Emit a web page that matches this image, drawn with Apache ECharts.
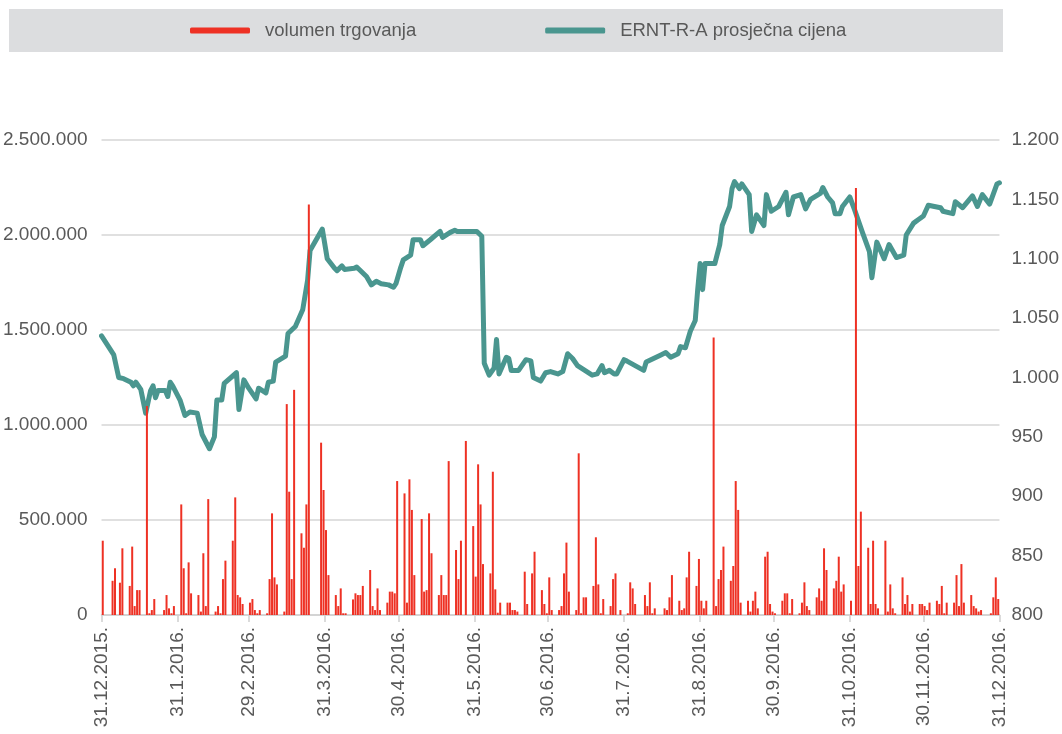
<!DOCTYPE html>
<html>
<head>
<meta charset="utf-8">
<script src="https://cdn.jsdelivr.net/npm/echarts@6/dist/echarts.min.js"></script>
<style>
  html, body { margin: 0; padding: 0; background: #fff; }
  #chart { width: 1062px; height: 734px; }
</style>
</head>
<body>
<div id="chart"></div>
<script>
// x = days counted from 31.12.2015
const tickDays = [0, 31, 60, 91, 121, 152, 182, 213, 244, 274, 305, 335, 366]
const tickLabels = [
  '31.12.2015.', '31.1.2016.', '29.2.2016.', '31.3.2016.', '30.4.2016.', '31.5.2016.', '30.6.2016.',
  '31.7.2016.', '31.8.2016.', '30.9.2016.', '31.10.2016.', '30.11.2016.', '31.12.2016.',
]

const volumeDays = [
  0, 4, 5, 7, 8, 11, 12, 13, 14, 15, 18, 19, 20, 21, 25, 26, 27, 28, 29, 32, 33, 34, 35, 36,
  39, 40, 41, 42, 43, 46, 47, 48, 49, 50, 53, 54, 55, 56, 57, 60, 61, 62, 63, 64, 67, 68, 69, 70, 71,
  74, 75, 76, 77, 78, 81, 82, 83, 84, 89, 90, 91, 92, 95, 96, 97, 98, 99, 102, 103, 104, 105, 106,
  109, 110, 111, 112, 113, 116, 117, 118, 119, 120, 123, 124, 125, 126, 127, 130, 131, 132, 133, 134,
  137, 138, 139, 140, 141, 144, 145, 146, 148, 151, 152, 153, 154, 155, 158, 159, 160, 161, 162,
  165, 166, 167, 168, 169, 172, 173, 175, 176, 179, 180, 181, 182, 183, 186, 187, 188, 189, 190,
  193, 194, 195, 196, 197, 200, 201, 202, 203, 204, 207, 208, 209, 211, 214, 215, 216, 217,
  221, 222, 223, 224, 225, 229, 230, 231, 232, 235, 236, 237, 238, 239, 242, 243, 244, 245, 246,
  249, 250, 251, 252, 253, 256, 257, 258, 259, 260, 263, 264, 265, 266, 267, 270, 271, 272, 273, 274,
  277, 278, 279, 280, 281, 284, 285, 286, 287, 288, 291, 292, 293, 294, 295, 298, 299, 300, 301, 302,
  305, 307, 308, 309, 312, 313, 314, 315, 316, 319, 320, 321, 322, 323, 326, 327, 328, 329, 330,
  333, 334, 335, 336, 337, 340, 341, 342, 343, 344, 347, 348, 349, 350, 351, 354, 355, 356, 357, 358,
  362, 363, 364, 365,
]
const volume = [
  391000, 180000, 246000, 170000, 351000, 153000, 360000, 47000, 131000, 131000, 1100000, 9000, 26000, 84000, 26000, 105000, 35000, 9000, 47000, 582000, 246000, 9000, 277000, 114000,
  105000, 18000, 325000, 47000, 610000, 18000, 47000, 9000, 189000, 286000, 391000, 619000, 105000, 93000, 58000, 65000, 84000, 26000, 9000, 26000, 9000, 189000, 535000, 198000, 161000,
  18000, 1110000, 649000, 189000, 1185000, 430000, 354000, 582000, 2160000, 907000, 658000, 447000, 210000, 105000, 47000, 140000, 9000, 9000, 82000, 114000, 105000, 105000, 153000,
  237000, 47000, 26000, 140000, 26000, 65000, 123000, 123000, 114000, 705000, 640000, 65000, 714000, 553000, 210000, 505000, 123000, 131000, 535000, 325000,
  105000, 210000, 105000, 105000, 810000, 342000, 189000, 391000, 916000, 468000, 202000, 793000, 582000, 268000, 219000, 754000, 135000, 12000, 65000,
  65000, 65000, 26000, 26000, 18000, 228000, 58000, 219000, 333000, 131000, 58000, 9000, 198000, 26000, 26000, 47000, 219000, 381000, 123000,
  26000, 851000, 9000, 93000, 93000, 153000, 409000, 161000, 9000, 84000, 47000, 189000, 219000, 26000, 9000, 172000, 140000, 58000,
  105000, 47000, 172000, 9000, 35000, 35000, 26000, 93000, 210000, 75000, 26000, 35000, 198000, 333000, 153000, 295000, 75000, 35000, 75000,
  1460000, 47000, 189000, 237000, 360000, 180000, 258000, 705000, 553000, 65000, 75000, 18000, 75000, 123000, 35000, 307000, 333000, 58000, 18000, 9000,
  75000, 114000, 114000, 9000, 84000, 9000, 65000, 172000, 47000, 26000, 93000, 140000, 75000, 351000, 237000, 140000, 180000, 307000, 123000, 161000,
  75000, 2247000, 258000, 544000, 354000, 58000, 391000, 58000, 35000, 391000, 18000, 161000, 35000, 9000, 198000, 58000, 105000, 18000, 58000,
  58000, 58000, 47000, 26000, 65000, 75000, 58000, 153000, 9000, 65000, 65000, 210000, 47000, 268000, 65000, 105000, 47000, 35000, 18000, 26000,
  9000, 93000, 198000, 84000,
]

const priceDays = [
  0, 5, 7, 9, 12, 13, 14, 16, 18, 20, 21, 22, 23, 26, 27, 28, 29, 32, 34, 36, 39, 41, 44, 46, 47, 49, 50,
  55, 56, 58, 60, 63, 64, 67, 68, 70, 71, 75, 76, 79, 82, 84, 85, 90, 92, 95, 96, 98, 99, 103, 104, 106,
  108, 110, 112, 114, 117, 119, 120, 122, 123, 126, 127, 130, 131, 134, 138, 139, 142, 144, 145, 153, 155,
  156, 158, 160, 161, 162, 165, 166, 167, 170, 173, 175, 176, 179, 181, 183, 186, 188, 190, 192, 194, 197,
  200, 202, 204, 205, 207, 209, 210, 213, 214, 221, 222, 228, 230, 232, 235, 236, 238, 240, 242, 243, 244,
  245, 246, 250, 252, 253, 256, 257, 258, 260, 261, 264, 265, 267, 270, 271, 273, 276, 279, 280, 282, 285,
  287, 289, 293, 294, 296, 298, 299, 301, 302, 305, 307, 310, 313, 314, 316, 319, 321, 324, 327, 328, 331,
  333, 335, 337, 342, 343, 347, 348, 351, 355, 357, 359, 362, 365, 366,
]
const price = [
  1035, 1019, 1000, 999, 996, 993, 996, 990, 970, 989, 993, 983, 989, 989, 984, 996, 993, 981, 968, 971, 970, 952, 940, 950, 981, 981, 995,
  1004, 973, 998, 991, 982, 991, 987, 996, 997, 1013, 1018, 1037, 1043, 1057, 1082, 1107, 1125, 1100, 1092, 1090, 1094, 1091, 1092, 1093, 1089,
  1085, 1078, 1081, 1079, 1078, 1076, 1079, 1093, 1099, 1103, 1116, 1116, 1111, 1116, 1123, 1118, 1122, 1124, 1123, 1123, 1119,
  1012, 1002, 1008, 1032, 1003, 1017, 1016, 1006, 1006, 1015, 1014, 1000, 997, 1004, 1005, 1003, 1005, 1020, 1016, 1010, 1006,
  1002, 1003, 1010, 1004, 1006, 1003, 1003, 1015, 1014, 1006, 1013, 1019, 1021, 1017, 1020, 1026, 1025, 1039, 1048, 1074, 1096,
  1074, 1096, 1096, 1112, 1128, 1144, 1159, 1165, 1159, 1163, 1154, 1123, 1137, 1128, 1154, 1140, 1144, 1156, 1137, 1152, 1154,
  1142, 1150, 1155, 1160, 1152, 1147, 1138, 1138, 1144, 1152, 1141, 1123, 1106, 1084, 1114, 1100, 1112, 1101, 1103, 1120, 1130,
  1133, 1136, 1145, 1143, 1140, 1138, 1148, 1143, 1153, 1144, 1154, 1146, 1163, 1164,
]

const dotted = (v) => String(v).replace(/\B(?=(\d{3})+(?!\d))/g, '.')
const labelColor = '#595959'
const font = 'Liberation Sans, Arial, sans-serif'

const chart = echarts.init(document.getElementById('chart'))
const option = {
  animation: false,
  graphic: [
    { type: 'rect', z: -10, shape: { x: 9, y: 9, width: 994, height: 43 }, style: { fill: '#DCDDDF' } },
  ],
  legend: {
    data: ['volumen trgovanja', 'ERNT-R-A prosječna cijena'],
    left: 185,
    top: 16,
    icon: 'roundRect',
    itemWidth: 60,
    itemHeight: 6,
    itemGap: 129,
    textStyle: { fontSize: 18.5, color: labelColor, fontFamily: font, padding: [0, 0, 0, 10] },
  },
  grid: { left: 101, right: 62, top: 140, bottom: 119 },
  xAxis: {
    type: 'value',
    min: 0,
    max: 366,
    axisLine: { lineStyle: { color: '#cfcfcf', width: 1.5 } },
    axisTick: { show: true, customValues: tickDays, length: 7, lineStyle: { color: '#cfcfcf', width: 1.5 } },
    splitLine: { show: false },
    axisLabel: {
      customValues: tickDays,
      rotate: 90,
      margin: 12,
      fontSize: 19,
      color: labelColor,
      fontFamily: font,
      formatter: (v) => tickLabels[tickDays.indexOf(v)],
    },
  },
  yAxis: [
    {
      type: 'value',
      min: 0,
      max: 2500000,
      interval: 500000,
      axisLine: { show: false },
      axisTick: { show: false },
      splitLine: { lineStyle: { color: '#d6d6d6', width: 1.5 } },
      axisLabel: { formatter: dotted, fontSize: 19, color: labelColor, fontFamily: font, margin: 14 },
    },
    {
      type: 'value',
      min: 800,
      max: 1200,
      interval: 50,
      position: 'right',
      axisLine: { show: false },
      axisTick: { show: false },
      splitLine: { show: false },
      axisLabel: { formatter: dotted, fontSize: 19, color: labelColor, fontFamily: font, margin: 12 },
    },
  ],
  series: [
    {
      name: 'volumen trgovanja',
      type: 'bar',
      yAxisIndex: 0,
      barWidth: 2,
      z: 3,
      itemStyle: { color: '#EE3124' },
      // bars sit in the middle of their day
      data: volumeDays.map((d, i) => [d + 0.5, volume[i]]),
    },
    {
      name: 'ERNT-R-A prosječna cijena',
      type: 'line',
      yAxisIndex: 1,
      symbol: 'none',
      z: 2,
      itemStyle: { color: '#4A968F' },
      lineStyle: { width: 5, color: '#4A968F', join: 'round', cap: 'round' },
      data: priceDays.map((d, i) => [d, price[i]]),
    },
  ],
}
chart.setOption(option)
window.addEventListener('resize', () => chart.resize())
</script>
</body>
</html>
